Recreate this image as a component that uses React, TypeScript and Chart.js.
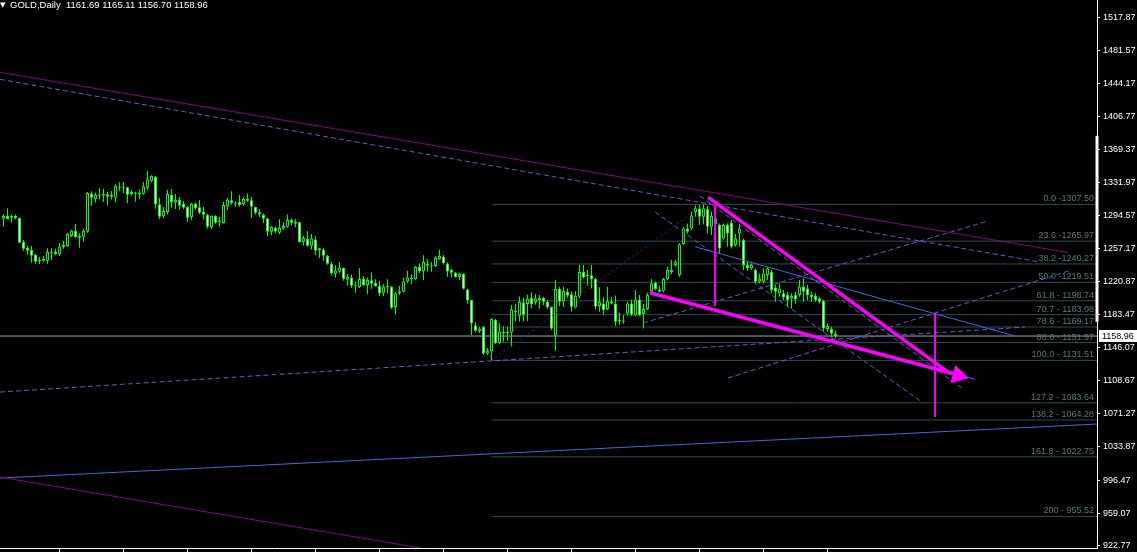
import React, { useEffect, useRef } from "react";
import { Chart, registerables } from "chart.js";

Chart.register(...registerables);

// ---- candle data (bar index 0..208) ----
const opens = [
  1291.3, 1294.3, 1292.5, 1294.7, 1292.1, 1265.0, 1258.2, 1256.0, 1250.3, 1243.2,
  1244.0, 1244.0, 1253.0, 1254.1, 1251.1, 1259.4, 1260.5, 1271.8, 1277.4, 1269.9,
  1271.0, 1276.7, 1319.5, 1313.5, 1318.4, 1317.6, 1318.8, 1316.1, 1315.0, 1327.4,
  1326.2, 1326.7, 1319.1, 1321.0, 1318.8, 1319.5, 1326.3, 1333.8, 1338.3, 1307.5,
  1294.0, 1298.8, 1318.0, 1309.7, 1312.4, 1308.2, 1304.5, 1293.2, 1308.2, 1304.1,
  1299.2, 1295.5, 1281.9, 1294.3, 1287.6, 1286.4, 1305.2, 1312.0, 1308.2, 1310.5,
  1307.9, 1313.9, 1312.0, 1304.5, 1298.5, 1295.5, 1291.7, 1276.7, 1281.2, 1275.5,
  1280.0, 1282.3, 1289.8, 1285.7, 1287.2, 1265.4, 1268.8, 1260.9, 1268.0, 1255.6,
  1256.4, 1249.2, 1240.2, 1229.3, 1231.5, 1235.7, 1222.5, 1224.8, 1215.0, 1214.2,
  1223.3, 1216.5, 1221.8, 1219.1, 1215.4, 1207.9, 1215.7, 1214.2, 1191.7, 1207.1,
  1209.0, 1220.6, 1224.8, 1222.9, 1236.8, 1232.3, 1240.6, 1238.7, 1237.9, 1245.8,
  1248.5, 1240.9, 1233.4, 1230.4, 1225.5, 1228.9, 1211.6, 1199.6, 1171.0, 1164.6,
  1169.1, 1139.4, 1141.7, 1177.4, 1151.5, 1163.5, 1162.4, 1163.1, 1187.2, 1181.9,
  1196.9, 1195.1, 1201.8, 1197.3, 1199.6, 1201.8, 1197.3, 1191.7, 1159.3, 1212.4,
  1198.1, 1209.0, 1206.0, 1191.3, 1203.7, 1231.2, 1226.3, 1227.4, 1223.3, 1192.8,
  1195.8, 1189.4, 1198.1, 1195.8, 1175.9, 1176.6, 1184.5, 1195.8, 1182.3, 1200.3,
  1183.8, 1189.4, 1209.4, 1219.1, 1211.6, 1210.1, 1222.9, 1233.4, 1239.0, 1227.7,
  1262.7, 1280.4, 1280.4, 1299.0, 1302.9, 1293.5, 1302.0, 1282.3, 1291.7, 1284.1,
  1269.1, 1284.1, 1286.8, 1261.6, 1274.7, 1267.2, 1239.0, 1235.3, 1233.4, 1220.2,
  1220.2, 1227.7, 1231.5, 1213.8, 1207.1, 1207.1, 1205.2, 1201.4, 1205.2, 1205.2,
  1214.6, 1212.7, 1205.2, 1204.4, 1201.4, 1198.8, 1166.8, 1166.8, 1161.69,
];
const highs = [
  1296.6, 1303.0, 1296.2, 1295.8, 1292.8, 1267.3, 1260.5, 1260.5, 1251.5, 1248.1,
  1249.2, 1257.9, 1258.2, 1257.5, 1263.9, 1266.5, 1275.2, 1278.9, 1285.3, 1274.8,
  1280.0, 1321.4, 1322.2, 1320.7, 1325.9, 1324.8, 1321.4, 1322.5, 1330.1, 1332.3,
  1332.7, 1327.4, 1323.7, 1321.8, 1324.4, 1332.7, 1345.1, 1340.2, 1339.5, 1315.0,
  1304.5, 1323.7, 1324.8, 1319.1, 1315.8, 1311.3, 1306.0, 1309.4, 1309.4, 1312.4,
  1304.9, 1297.3, 1295.1, 1295.1, 1293.6, 1310.1, 1315.0, 1322.2, 1310.9, 1318.0,
  1315.8, 1319.9, 1315.8, 1304.9, 1302.2, 1297.3, 1292.5, 1282.7, 1282.3, 1290.6,
  1287.2, 1296.2, 1291.7, 1290.6, 1287.9, 1271.8, 1277.4, 1274.0, 1271.4, 1258.2,
  1258.2, 1250.3, 1242.4, 1238.7, 1242.1, 1236.4, 1228.9, 1228.5, 1220.6, 1235.7,
  1226.6, 1225.1, 1230.8, 1222.9, 1221.0, 1217.6, 1222.9, 1215.4, 1208.6, 1215.4,
  1224.8, 1232.7, 1228.5, 1238.3, 1240.9, 1250.0, 1246.2, 1242.1, 1249.2, 1256.4,
  1250.3, 1242.1, 1234.9, 1231.2, 1230.4, 1229.7, 1212.7, 1200.0, 1174.4, 1169.5,
  1170.3, 1145.4, 1178.9, 1178.5, 1173.3, 1169.9, 1169.5, 1193.9, 1195.1, 1203.7,
  1201.8, 1205.6, 1208.2, 1206.0, 1205.2, 1203.3, 1199.6, 1192.4, 1222.1, 1214.2,
  1214.6, 1212.7, 1209.0, 1209.4, 1239.1, 1239.1, 1233.4, 1239.1, 1224.4, 1213.9,
  1202.6, 1214.2, 1203.0, 1204.8, 1185.3, 1182.3, 1197.7, 1199.6, 1210.9, 1205.2,
  1195.1, 1207.9, 1223.3, 1220.6, 1215.7, 1224.4, 1237.2, 1244.7, 1244.7, 1263.5,
  1282.3, 1286.0, 1299.2, 1306.5, 1306.7, 1307.5, 1305.5, 1299.2, 1299.2, 1286.0,
  1286.0, 1286.0, 1289.8, 1274.0, 1286.0, 1269.1, 1242.8, 1240.9, 1235.3, 1229.6,
  1235.3, 1237.1, 1233.4, 1216.5, 1218.3, 1210.8, 1208.9, 1207.1, 1208.9, 1222.1,
  1224.0, 1216.5, 1208.9, 1207.1, 1203.3, 1200.3, 1173.2, 1169.5, 1165.11,
];
const lows = [
  1282.3, 1290.6, 1286.8, 1290.6, 1263.5, 1255.2, 1250.3, 1241.7, 1240.6, 1240.2,
  1242.8, 1240.6, 1244.7, 1250.0, 1249.2, 1257.5, 1259.7, 1270.3, 1269.9, 1258.6,
  1265.4, 1275.5, 1306.0, 1309.7, 1313.1, 1310.1, 1306.0, 1313.1, 1309.7, 1322.9,
  1319.9, 1309.0, 1317.3, 1310.5, 1313.1, 1318.4, 1324.0, 1332.3, 1302.6, 1290.9,
  1292.1, 1296.6, 1303.7, 1302.2, 1301.5, 1302.2, 1287.6, 1290.2, 1301.5, 1296.6,
  1290.6, 1280.0, 1279.7, 1285.7, 1282.3, 1285.8, 1301.1, 1307.1, 1304.5, 1304.9,
  1305.6, 1310.1, 1292.5, 1296.2, 1293.2, 1286.4, 1271.8, 1272.9, 1274.8, 1274.0,
  1278.9, 1281.2, 1283.8, 1281.9, 1264.6, 1261.2, 1259.7, 1256.7, 1250.3, 1247.0,
  1243.9, 1239.4, 1227.4, 1224.8, 1230.0, 1221.4, 1216.1, 1213.1, 1207.9, 1213.1,
  1215.4, 1206.3, 1212.4, 1214.6, 1204.1, 1204.1, 1207.1, 1189.4, 1183.0, 1205.2,
  1208.2, 1219.1, 1217.6, 1222.1, 1229.7, 1221.8, 1231.5, 1231.5, 1236.8, 1245.1,
  1239.8, 1225.9, 1225.1, 1224.8, 1222.1, 1211.6, 1195.8, 1160.1, 1163.9, 1162.4,
  1137.9, 1137.5, 1131.51, 1150.0, 1150.0, 1152.6, 1153.7, 1147.3, 1175.5, 1175.1,
  1175.5, 1175.9, 1190.2, 1194.3, 1189.8, 1193.9, 1189.4, 1165.7, 1142.4, 1192.8,
  1192.1, 1202.2, 1186.4, 1190.2, 1201.8, 1224.0, 1215.7, 1212.7, 1189.4, 1186.4,
  1183.0, 1188.3, 1194.7, 1170.6, 1171.8, 1172.9, 1181.9, 1181.5, 1181.5, 1181.2,
  1167.6, 1188.3, 1208.6, 1210.5, 1208.2, 1208.6, 1222.1, 1228.9, 1237.1, 1225.9,
  1261.6, 1274.7, 1278.5, 1293.5, 1284.1, 1285.0, 1274.7, 1272.9, 1278.5, 1252.2,
  1268.0, 1259.7, 1257.8, 1259.7, 1259.7, 1233.4, 1232.6, 1233.4, 1218.3, 1218.3,
  1218.3, 1222.1, 1207.1, 1197.7, 1203.3, 1199.5, 1192.0, 1190.1, 1195.8, 1203.3,
  1197.7, 1199.5, 1197.7, 1197.7, 1195.8, 1163.8, 1163.8, 1158.2, 1156.70,
];
const closes = [
  1294.3, 1290.9, 1294.7, 1291.7, 1264.3, 1257.5, 1255.2, 1249.6, 1242.8, 1245.1,
  1246.2, 1253.7, 1254.1, 1251.5, 1260.1, 1261.6, 1274.0, 1277.8, 1270.6, 1272.2,
  1277.8, 1320.3, 1315.0, 1318.4, 1317.1, 1319.5, 1316.1, 1318.4, 1328.5, 1326.2,
  1327.4, 1318.4, 1321.4, 1319.5, 1321.0, 1327.8, 1335.7, 1339.5, 1307.5, 1293.6,
  1300.0, 1319.1, 1310.1, 1312.4, 1306.0, 1303.7, 1292.5, 1308.2, 1303.0, 1298.1,
  1295.8, 1282.3, 1294.3, 1286.8, 1288.9, 1306.7, 1312.8, 1309.0, 1309.4, 1306.7,
  1313.5, 1311.6, 1304.9, 1298.1, 1296.2, 1291.3, 1276.7, 1281.9, 1277.0, 1280.8,
  1283.1, 1289.8, 1286.8, 1287.9, 1265.0, 1269.5, 1260.9, 1269.1, 1255.2, 1257.9,
  1249.6, 1240.6, 1229.7, 1233.0, 1236.1, 1223.6, 1225.5, 1215.7, 1216.3, 1223.3,
  1216.5, 1222.1, 1218.0, 1215.4, 1207.1, 1214.6, 1213.9, 1190.9, 1207.1, 1209.4,
  1220.6, 1225.1, 1223.3, 1236.8, 1232.3, 1242.4, 1238.3, 1237.4, 1247.0, 1249.2,
  1241.3, 1231.9, 1230.4, 1225.5, 1228.9, 1212.4, 1199.2, 1173.3, 1165.0, 1167.6,
  1139.4, 1142.1, 1178.1, 1151.1, 1164.2, 1162.0, 1163.6, 1189.1, 1185.7, 1197.3,
  1182.7, 1201.1, 1194.7, 1201.1, 1202.2, 1197.7, 1191.7, 1167.6, 1212.0, 1197.7,
  1209.7, 1204.5, 1192.1, 1204.5, 1231.2, 1225.1, 1227.8, 1222.9, 1192.1, 1197.3,
  1188.3, 1198.1, 1195.8, 1175.1, 1177.2, 1175.1, 1195.8, 1183.0, 1200.3, 1182.7,
  1189.4, 1205.2, 1218.4, 1212.0, 1209.0, 1223.3, 1233.4, 1231.1, 1242.8, 1262.3,
  1280.4, 1276.6, 1295.0, 1303.0, 1293.5, 1303.0, 1282.3, 1294.3, 1285.3, 1257.8,
  1284.1, 1274.7, 1259.7, 1269.1, 1280.4, 1239.0, 1235.3, 1239.0, 1220.2, 1224.0,
  1229.6, 1235.3, 1210.8, 1208.9, 1212.7, 1202.6, 1199.5, 1204.1, 1200.3, 1214.6,
  1208.9, 1205.2, 1202.6, 1199.5, 1197.7, 1167.6, 1170.2, 1161.9, 1158.96,
];

// ---- axis ticks ----
const priceTicks = [
  1517.87, 1481.57, 1444.17, 1406.77, 1369.37, 1331.97, 1294.57, 1257.17, 1220.87,
  1183.47, 1146.07, 1108.67, 1071.27, 1033.87, 996.47, 959.07, 922.77,
];
const timeTicks = [14, 30, 46, 62, 78, 94, 110, 126, 142, 158, 174, 190, 206];

// ---- fibonacci ----
const fibStart = 122;
const fibValues = [1307.5, 1265.97, 1240.27, 1219.51, 1198.74, 1183.08, 1169.17, 1151.57, 1131.51, 1083.64, 1064.28, 1022.75, 955.52];
const fibLabels = [
  "0.0 -1307.50", "23.6 -1265.97", "38.2 -1240.27", "50.0 -1219.51", "61.8 - 1198.74",
  "70.7 - 1183.08", "78.6 - 1169.17", "88.6 - 1151.57", "100.0 - 1131.51",
  "127.2 - 1083.64", "138.2 - 1064.28", "161.8 - 1022.75", "200 - 955.52",
];

const lastPrice = 1158.96;
const headerText = "GOLD,Daily  1161.69 1165.11 1156.70 1158.96";

// ---- drawn objects: [bar index, price] pairs ----
const purpleUpper = [[-0.875, 1456.4], [266.1, 1253.3]];
const purpleLower = [[-0.875, 999.9], [110, 915.6]];
const dashedUpper = [[-0.875, 1448.5], [259.1, 1242.5]];
const dashedFallA = [[162.9, 1298.9], [229.6, 1084.5]];
const dashedFallB = [[174.1, 1317.0], [239.6, 1100.3]];
const dashedRiseA = [[181.1, 1111.6], [266.6, 1232.8]];
const dashedRiseB = [[159.9, 1173.7], [246.1, 1288.7]];
const dashedRiseC = [[-0.875, 1095.8], [255.4, 1169.1]];
const fibBase = [[122, 1131.51], [175, 1307.5]];
const blueLong = [[-0.875, 998.8], [273.375, 1059.7]];
const blueUpper = [[172.9, 1259.7], [252.9, 1159.0]];
const blueLower = [[161.6, 1207.8], [242.9, 1110.2]];
const pinkUpper = [[176.2, 1315.4], [236.6, 1116.9]];
const pinkLower = [[161.6, 1207.8], [240.4, 1113.1]];
const arrowHead = [[238.7, 1114.6]];
const pinkMarkA = [[177.9, 1306.8], [177.9, 1192.8]];
const pinkMarkB = [[232.9, 1184.9], [232.9, 1067.6]];
const axisRangeBar = [[273.375, 1385], [273.375, 1175]];

const X_MIN = -0.875;
const X_MAX = 273.375;
const Y_MIN = 919.9;
const Y_MAX = 1538.0;

const FONT = '"Liberation Sans", Arial, sans-serif';

function lineDs(seg: number[][], color: string, width: number, dash: number[], order: number, extra: any = {}) {
  return {
    type: "line",
    data: seg.map(([x, y]) => ({ x, y })),
    borderColor: color,
    backgroundColor: color,
    borderWidth: width,
    borderDash: dash,
    pointRadius: 0,
    fill: false,
    tension: 0,
    order,
    ...extra,
  };
}

const overlayPlugin = {
  id: "overlayText",
  afterDraw(chart: any) {
    const { ctx, chartArea, scales } = chart;
    const ys = scales.y;
    ctx.save();
    ctx.font = `9px ${FONT}`;
    ctx.textBaseline = "alphabetic";
    ctx.textAlign = "right";
    ctx.fillStyle = "#587a7a";
    fibValues.forEach((v, k) => {
      ctx.fillText(fibLabels[k], chartArea.right - 3, Math.round(ys.getPixelForValue(v)) - 3);
    });
    ctx.textAlign = "left";
    ctx.fillStyle = "#ffffff";
    ctx.font = `9.5px ${FONT}`;
    ctx.fillText(headerText, 10, 8);
    ctx.font = `7px "DejaVu Sans", sans-serif`;
    ctx.fillText("\u25BC", 0, 7);
    const py = Math.round(ys.getPixelForValue(lastPrice));
    ctx.fillStyle = "#ffffff";
    ctx.fillRect(chartArea.right + 2, py - 6, 40, 12);
    ctx.fillStyle = "#000000";
    ctx.font = `9px ${FONT}`;
    ctx.textBaseline = "middle";
    ctx.fillText(lastPrice.toFixed(2), chartArea.right + 5, py + 0.5);
    ctx.restore();
  },
};

export default function App() {
  const ref = useRef<HTMLCanvasElement>(null);

  useEffect(() => {
    const canvas = ref.current;
    if (!canvas) return;
    const idx = opens.map((_, i) => i);

    const datasets: any[] = [
      ...fibValues.map((v) => lineDs([[fibStart, v], [X_MAX, v]], "#2F4F4F", 1, [], 30)),
      lineDs([[X_MIN, lastPrice], [X_MAX, lastPrice]], "#a4a4ac", 1, [], 29),
      lineDs(blueLong, "#4169E1", 1, [], 28),
      {
        type: "bar",
        data: idx.map((i) => ({ x: i, y: [lows[i], highs[i]] })),
        backgroundColor: "#00ff00",
        borderWidth: 0,
        barThickness: 1,
        grouped: false,
        inflateAmount: 0,
        minBarLength: 1,
        order: 21,
      },
      {
        type: "bar",
        data: idx.map((i) => ({ x: i, y: [Math.min(opens[i], closes[i]), Math.max(opens[i], closes[i])] })),
        backgroundColor: idx.map((i) => (closes[i] >= opens[i] ? "#000000" : "#ffffff")),
        borderColor: "#00ff00",
        borderWidth: 1,
        borderSkipped: false,
        barThickness: 3,
        grouped: false,
        inflateAmount: 0,
        minBarLength: 1,
        order: 20,
      },
      lineDs(purpleUpper, "#8a008a", 1, [], 5),
      lineDs(purpleLower, "#8a008a", 1, [], 5),
      lineDs(dashedUpper, "#6A5ACD", 1, [5, 3], 6),
      lineDs(dashedFallA, "#6A5ACD", 1, [5, 3], 6),
      lineDs(dashedFallB, "#6A5ACD", 1, [5, 3], 6),
      lineDs(dashedRiseA, "#6A5ACD", 1, [5, 3], 6),
      lineDs(dashedRiseB, "#6A5ACD", 1, [5, 3], 6),
      lineDs(dashedRiseC, "#6A5ACD", 1, [5, 3], 6),
      lineDs(fibBase, "#2323a8", 1, [2, 3], 6),
      lineDs(blueUpper, "#4169E1", 1, [], 4),
      lineDs(blueLower, "#4169E1", 1, [], 4),
      lineDs(pinkUpper, "#ff00ff", 3.5, [], 1),
      lineDs(pinkLower, "#ff00ff", 3.5, [], 1),
      lineDs(pinkMarkA, "#ff00ff", 2, [], 1),
      lineDs(pinkMarkB, "#ff00ff", 2, [], 1),
      lineDs(arrowHead, "#ff00ff", 1, [], 0, {
        showLine: false,
        pointRadius: 10,
        pointStyle: "triangle",
        pointRotation: 104.9,
        pointBackgroundColor: "#ff00ff",
        pointBorderColor: "#ff00ff",
      }),
      lineDs(axisRangeBar, "#ffffff", 3, [], 0, { clip: false }),
    ];

    const chart = new Chart(canvas, {
      type: "bar",
      data: { datasets },
      options: {
        responsive: false,
        devicePixelRatio: 1,
        animation: false,
        events: [],
        layout: { padding: 0, autoPadding: false },
        plugins: { legend: { display: false }, tooltip: { enabled: false }, title: { display: false } },
        scales: {
          x: {
            type: "linear",
            min: X_MIN,
            max: X_MAX,
            offset: false,
            position: "bottom",
            grid: { display: true, drawOnChartArea: false, drawTicks: true, tickLength: 4, color: "#ffffff", offset: false },
            border: { display: true, color: "#ffffff", width: 1 },
            ticks: { display: false },
            afterBuildTicks: (s: any) => {
              s.ticks = timeTicks.map((v) => ({ value: v }));
            },
            afterFit: (s: any) => {
              s.height = 4;
              s.paddingLeft = 0;
              s.paddingRight = 0;
            },
          },
          y: {
            type: "linear",
            position: "right",
            min: Y_MIN,
            max: Y_MAX,
            grid: { display: true, drawOnChartArea: false, drawTicks: true, tickLength: 3, color: "#ffffff" },
            border: { display: true, color: "#ffffff", width: 1 },
            ticks: {
              color: "#ffffff",
              font: { family: FONT, size: 9 },
              padding: 3,
              autoSkip: false,
              callback: (v: any) => Number(v).toFixed(2),
            },
            afterBuildTicks: (s: any) => {
              s.ticks = priceTicks.map((v) => ({ value: v }));
            },
            afterFit: (s: any) => {
              s.width = 40;
              s.paddingTop = 0;
              s.paddingBottom = 0;
              s.paddingLeft = 0;
              s.paddingRight = 0;
            },
          },
        },
      } as any,
      plugins: [overlayPlugin],
    } as any);

    return () => chart.destroy();
  }, []);

  return (
    <div style={{ position: "fixed", left: 0, top: 0, width: 1137, height: 552, background: "#000000" }}>
      <canvas ref={ref} width={1137} height={552} style={{ display: "block", background: "#000000" }} />
    </div>
  );
}
